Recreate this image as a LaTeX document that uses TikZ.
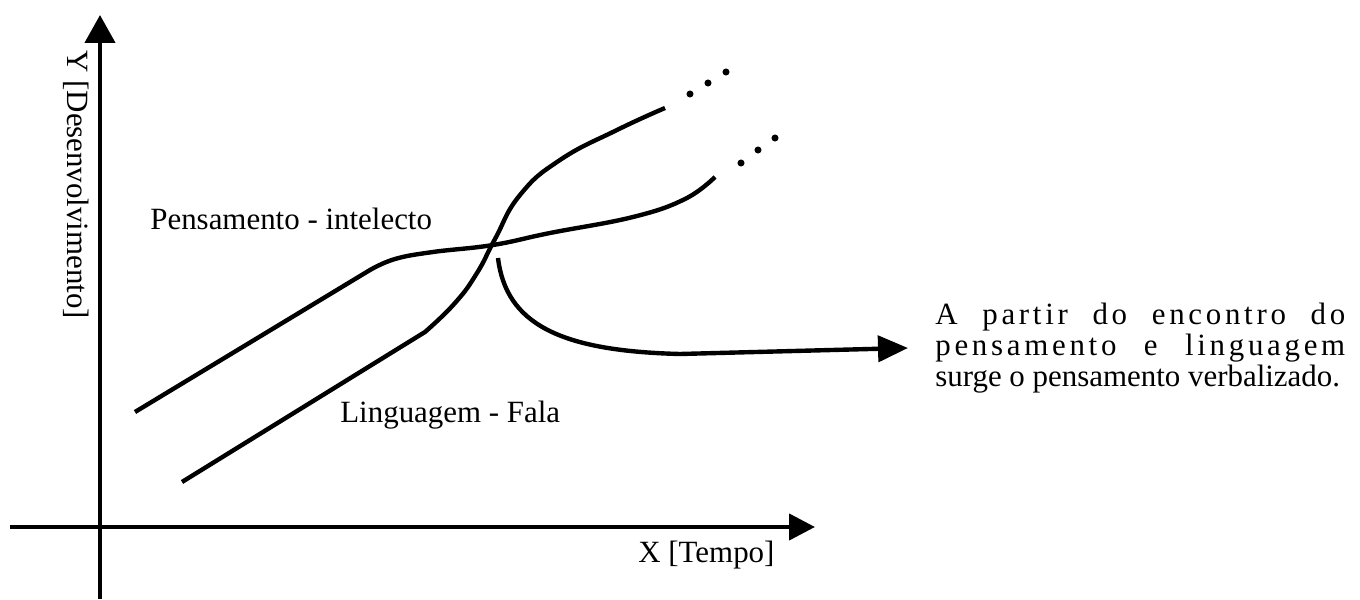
\documentclass[tikz,border=0pt]{standalone}
\usepackage{fontspec}
\setmainfont{Liberation Serif}
\usetikzlibrary{positioning, arrows.meta}
\tikzset{
	plottext/.style={font=\fontsize{17.6}{17.6}\selectfont, inner sep=0pt, anchor=base west}
}
\tikzset{
	thickline/.style={line width=2.5pt, line join=round}
}

\begin{document}
\begin{tikzpicture}[x=0.02cm, y=0.02cm]
      \useasboundingbox (0,0) rectangle (1360,599);
      % axes
      \coordinate (origin) at (100,72);
      \draw[thickline, -{Triangle[length=0.56cm, width=0.6cm]}] (100,0) -- (100,584);
      \draw[thickline, -{Triangle[length=0.52cm, width=0.52cm]}] (10,72) -- (815,72);
      \node[plottext, rotate=-90] (ylab) at (67,549) {Y [Desenvolvimento]};
      \node[plottext] (xlab) at (638,37) {X [Tempo]};
      % thought curve
      \draw[thickline] (135,187) -- plot[smooth, tension=0.7] coordinates {(370,329) (395,340) (433,347) (493,354) (550,366) (633,382) (685,400) (715,422)};
      \node[plottext] (pens) at (150,369) {Pensamento - intelecto};
      % speech curve
      \draw[thickline] (182,117) -- plot[smooth, tension=0.8] coordinates {(425,267) (455,296) (477,326) (495,360) (520,404) (560,439) (617,469) (665,491)};
      \node[plottext] (ling) at (340,176) {Linguagem - Fala};
      % dots
      \foreach \px/\py in {690/505, 708/516, 726/527, 741/436, 758/449, 775/461}
        \fill (\px,\py) circle (2pt);
      % note
      \node[plottext] (note1) at (935,274) {\makebox[8.2cm][s]{\addfontfeature{LetterSpace=12}A partir do encontro do}};
      \node[plottext] (note2) at (935,243) {\makebox[8.2cm][s]{\addfontfeature{LetterSpace=12}pensamento e linguagem}};
      \node[plottext] (note3) at (935,212) {surge o pensamento verbalizado.};
      \coordinate (meet) at (498,341);
      \coordinate (tip) at (908,251);
      \draw[thickline, -{Triangle[length=0.6cm, width=0.52cm]}] (meet) .. controls (506,275) and (560,248) .. (680,245) -- (tip);
    \end{tikzpicture}
\end{document}
